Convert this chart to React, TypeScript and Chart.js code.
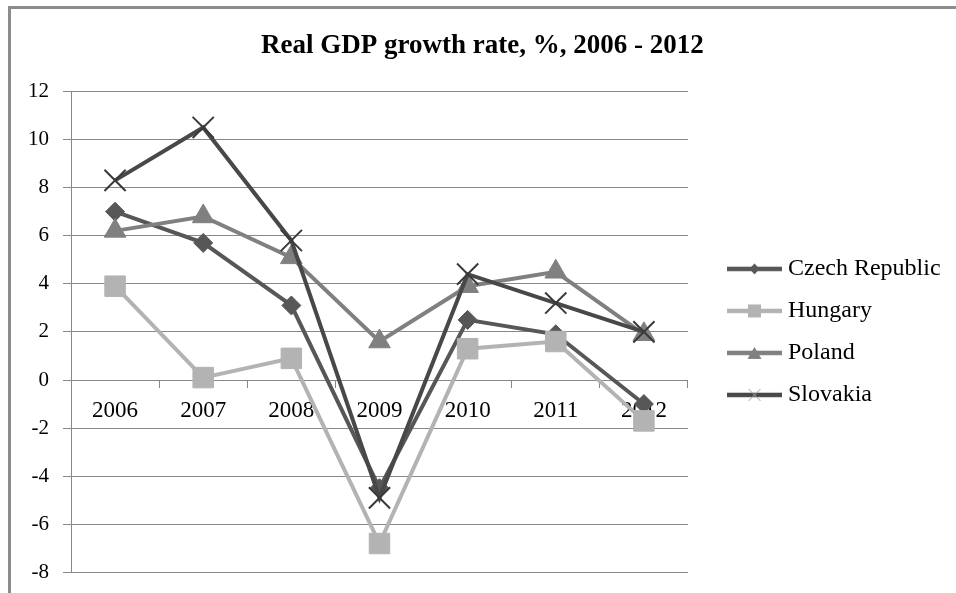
import React, { useEffect, useRef } from 'react';
import { Chart, registerables } from 'chart.js';

Chart.register(...registerables);

// ---- data ----
const years = ['2006', '2007', '2008', '2009', '2010', '2011', '2012'];
const czechRepublic = [7.0, 5.7, 3.1, -4.5, 2.5, 1.9, -1.0];
const hungary = [3.9, 0.1, 0.9, -6.8, 1.3, 1.6, -1.7];
const poland = [6.2, 6.8, 5.1, 1.6, 3.9, 4.5, 1.9];
const slovakia = [8.3, 10.5, 5.8, -4.9, 4.4, 3.2, 2.0];
const seriesNames = ['Czech Republic', 'Hungary', 'Poland', 'Slovakia'];
const yMin = -8;
const yMax = 12;
const yStep = 2;
const titleText = 'Real GDP growth rate, %, 2006 - 2012';

const FONT = "'Liberation Serif', 'Times New Roman', serif";
const GRID = '#888888';

const colors = ['#575757', '#b3b3b3', '#808080', '#484848'];

function makeIcon(kind: string, color: string): HTMLCanvasElement {
  const c = document.createElement('canvas');
  c.width = 90;
  c.height = 24;
  const ctx = c.getContext('2d') as CanvasRenderingContext2D;
  ctx.strokeStyle = color;
  ctx.lineWidth = 4.5;
  ctx.beginPath();
  ctx.moveTo(31, 12);
  ctx.lineTo(86, 12);
  ctx.stroke();
  const mx = 58.5;
  const my = 12;
  ctx.fillStyle = color;
  if (kind === 'diamond') {
    ctx.beginPath();
    ctx.moveTo(mx, my - 5.5);
    ctx.lineTo(mx + 5, my);
    ctx.lineTo(mx, my + 5.5);
    ctx.lineTo(mx - 5, my);
    ctx.closePath();
    ctx.fill();
  } else if (kind === 'square') {
    ctx.fillRect(mx - 6.5, my - 6.5, 13, 13);
  } else if (kind === 'triangle') {
    ctx.beginPath();
    ctx.moveTo(mx, my - 6);
    ctx.lineTo(mx + 7, my + 6);
    ctx.lineTo(mx - 7, my + 6);
    ctx.closePath();
    ctx.fill();
  } else if (kind === 'x') {
    ctx.strokeStyle = '#a0a0a0';
    ctx.lineWidth = 1;
    ctx.beginPath();
    ctx.moveTo(mx - 6, my - 6);
    ctx.lineTo(mx + 6, my + 6);
    ctx.moveTo(mx + 6, my - 6);
    ctx.lineTo(mx - 6, my + 6);
    ctx.stroke();
  }
  return c;
}

export default function App() {
  const ref = useRef<HTMLCanvasElement | null>(null);

  useEffect(() => {
    if (!ref.current) return;
    const icons = [
      makeIcon('diamond', colors[0]),
      makeIcon('square', colors[1]),
      makeIcon('triangle', colors[2]),
      makeIcon('x', colors[3]),
    ];
    const base = {
      tension: 0,
      borderWidth: 4,
      pointBorderWidth: 1,
      fill: false,
    };
    const chart = new Chart(ref.current, {
      type: 'line',
      data: {
        labels: years,
        datasets: [
          {
            ...base,
            label: seriesNames[0],
            data: czechRepublic,
            borderColor: colors[0],
            backgroundColor: colors[0],
            pointStyle: 'rectRot',
            pointRadius: 9.5,
            pointBorderColor: colors[0],
            order: 4,
          },
          {
            ...base,
            label: seriesNames[1],
            data: hungary,
            borderColor: colors[1],
            backgroundColor: colors[1],
            pointStyle: 'rect',
            pointRadius: 14.5,
            pointBorderColor: colors[1],
            order: 3,
          },
          {
            ...base,
            label: seriesNames[2],
            data: poland,
            borderColor: colors[2],
            backgroundColor: colors[2],
            pointStyle: 'triangle',
            pointRadius: 12.5,
            pointBorderColor: colors[2],
            order: 2,
          },
          {
            ...base,
            label: seriesNames[3],
            data: slovakia,
            borderColor: colors[3],
            backgroundColor: colors[3],
            pointStyle: 'crossRot',
            pointRadius: 15,
            pointBorderWidth: 2,
            pointBorderColor: '#3a3a3a',
            order: 1,
          },
        ],
      },
      options: {
        animation: false,
        responsive: false,
        devicePixelRatio: 1,
        layout: { padding: { left: 14, right: 5.4, top: 0, bottom: 0 } },
        plugins: {
          title: {
            display: true,
            text: titleText,
            color: '#000',
            font: { family: FONT, size: 27, weight: 'bold', lineHeight: 1.2 },
            padding: { top: 30, bottom: 29 },
          },
          legend: {
            display: true,
            position: 'right',
            fullSize: false,
            align: 'center',
            maxWidth: 320,
            labels: {
              usePointStyle: true,
              pointStyleWidth: 70,
              padding: 18,
              color: '#000',
              font: { family: FONT, size: 24 },
              generateLabels: () =>
                seriesNames.map((name, i) => ({
                  text: name,
                  fillStyle: 'transparent',
                  strokeStyle: 'transparent',
                  lineWidth: 0,
                  pointStyle: icons[i],
                  hidden: false,
                  datasetIndex: i,
                  fontColor: '#000',
                })),
            },
          },
          tooltip: { enabled: false },
        },
        scales: {
          x: {
            type: 'category',
            position: { y: 0 },
            offset: true,
            grid: {
              offset: true,
              drawOnChartArea: false,
              drawTicks: true,
              tickLength: 7,
              color: GRID,
              lineWidth: 1,
            },
            border: { display: true, color: GRID, width: 1 },
            ticks: {
              color: '#000',
              font: { family: FONT, size: 23 },
              padding: 10,
              maxRotation: 0,
              autoSkip: false,
            },
          },
          y: {
            min: yMin,
            max: yMax,
            position: 'left',
            grid: {
              color: GRID,
              lineWidth: 1,
              drawTicks: true,
              tickLength: 8,
            },
            border: { display: true, color: GRID, width: 1 },
            ticks: {
              stepSize: yStep,
              color: '#000',
              font: { family: FONT, size: 21 },
              padding: 14,
            },
          },
        },
      },
    });
    return () => chart.destroy();
  }, []);

  return (
    <div
      style={{
        position: 'fixed',
        left: 0,
        top: 0,
        width: 956,
        height: 593,
        overflow: 'hidden',
        background: '#fff',
      }}
    >
      <div
        style={{
          position: 'absolute',
          left: 8,
          top: 6,
          width: 1200,
          height: 1000,
          border: '3px solid #8c8c8c',
          boxSizing: 'border-box',
        }}
      />
      <canvas
        ref={ref}
        width={956}
        height={599}
        style={{ position: 'absolute', left: 0, top: 0, width: 956, height: 599, display: 'block' }}
      />
    </div>
  );
}
